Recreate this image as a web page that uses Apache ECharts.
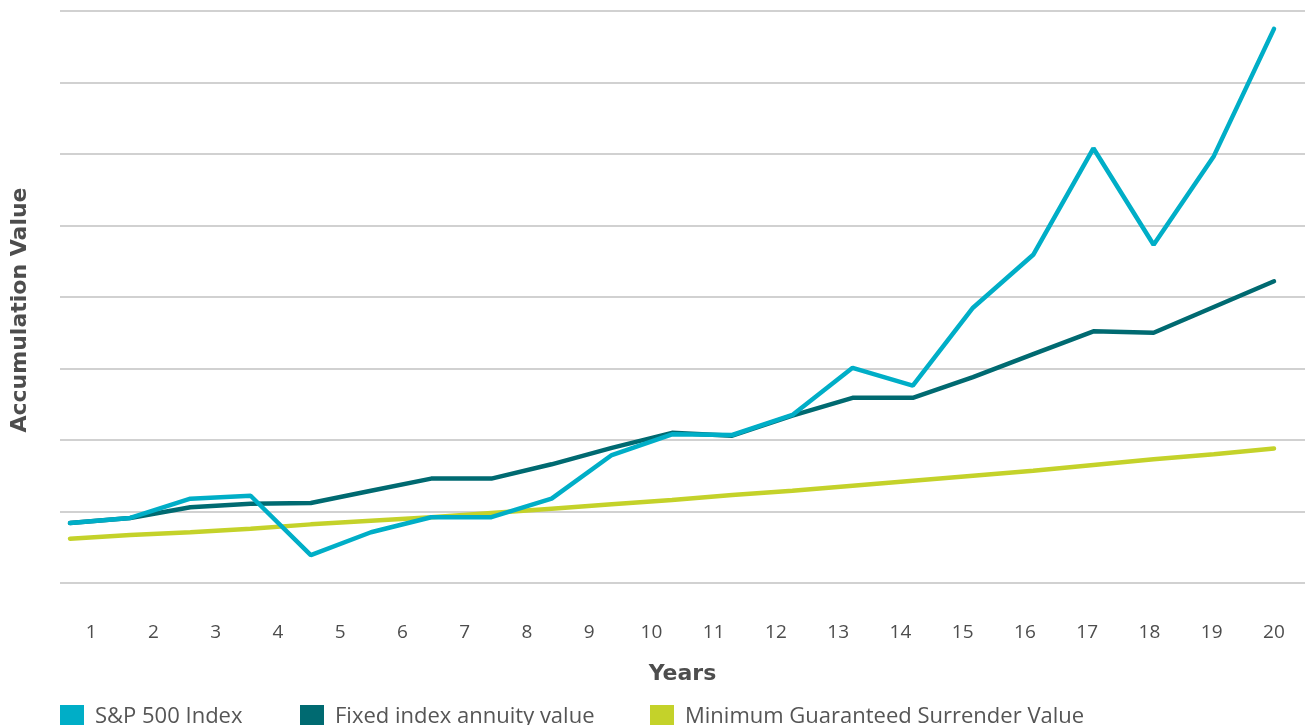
<!DOCTYPE html>
<html>
<head>
<meta charset="utf-8">
<script src="https://cdn.jsdelivr.net/npm/echarts@6/dist/echarts.min.js"></script>
<style>
html,body{margin:0;padding:0;background:#fff;}
#chart{width:1307px;height:725px;}
</style>
</head>
<body>
<div id="chart"></div>
<script>
// Year tick labels
const yearLabels = ['1','2','3','4','5','6','7','8','9','10','11','12','13','14','15','16','17','18','19','20'];
// Series values (relative units; one gridline step = 1), 21 points each
const sp500 = [0.84,0.91,1.18,1.22,0.39,0.71,0.92,0.92,1.18,1.79,2.08,2.07,2.35,3.01,2.76,3.85,4.59,6.08,4.73,5.97,7.75];
const fixedIndex = [0.84,0.91,1.06,1.11,1.12,1.29,1.46,1.46,1.66,1.89,2.10,2.06,2.34,2.59,2.59,2.88,3.20,3.52,3.50,3.86,4.22];
const minGuaranteed = [0.62,0.67,0.71,0.76,0.82,0.87,0.92,0.98,1.04,1.10,1.16,1.23,1.29,1.36,1.43,1.50,1.57,1.65,1.73,1.80,1.88];
const seriesNames = ['S&P 500 Index','Fixed index annuity value','Minimum Guaranteed Surrender Value'];
const colors = ['#00AEC7','#006A71','#C4D22A'];

const toPairs = arr => arr.map((v,i)=>[i,v]);
const font = '"Open Sans", sans-serif';
const boldFont = '"DejaVu Sans", sans-serif';
const legendLefts = [60, 300, 650];

const chart = echarts.init(document.getElementById('chart'));
chart.setOption({
  animation:false,
  grid:{left:60,right:2,top:11,bottom:142,containLabel:false},
  legend:seriesNames.map((n,i)=>({
    data:[n],
    left:legendLefts[i], top:705, padding:0,
    icon:'rect', itemWidth:24, itemHeight:24,
    textStyle:{fontFamily:font,fontSize:22,color:'#555',padding:[0,0,0,6]}
  })),
  graphic:[{
    type:'text', x:20, y:310, rotation:Math.PI/2,
    style:{text:'Accumulation Value', fill:'#4d4d4d', font:'bold 22px "DejaVu Sans", sans-serif',
      textAlign:'center', textVerticalAlign:'middle'}
  }],
  xAxis:[
    {type:'category',data:yearLabels,boundaryGap:true,
     axisLine:{show:false},axisTick:{show:false},splitLine:{show:false},
     axisLabel:{color:'#4d4d4d',fontSize:19,margin:40,fontFamily:font},
     name:'Years',nameLocation:'middle',nameGap:80,
     nameTextStyle:{color:'#4d4d4d',fontSize:22,fontWeight:'bold',fontFamily:boldFont}},
    {type:'value',min:-0.166,max:20.515,show:false}
  ],
  yAxis:{type:'value',min:0,max:8,interval:1,
    axisLine:{show:false},axisTick:{show:false},axisLabel:{show:false},
    splitLine:{lineStyle:{color:'#c2c2c2',width:1.5}}},
  series:[
    {name:seriesNames[2],type:'line',xAxisIndex:1,data:toPairs(minGuaranteed),symbol:'none',
     lineStyle:{color:colors[2],width:4.5,cap:'round'},itemStyle:{color:colors[2]},z:2},
    {name:seriesNames[1],type:'line',xAxisIndex:1,data:toPairs(fixedIndex),symbol:'none',
     lineStyle:{color:colors[1],width:4.5,cap:'round'},itemStyle:{color:colors[1]},z:3},
    {name:seriesNames[0],type:'line',xAxisIndex:1,data:toPairs(sp500),symbol:'none',
     lineStyle:{color:colors[0],width:4.5,cap:'round'},itemStyle:{color:colors[0]},z:4}
  ]
});
</script>
</body>
</html>
